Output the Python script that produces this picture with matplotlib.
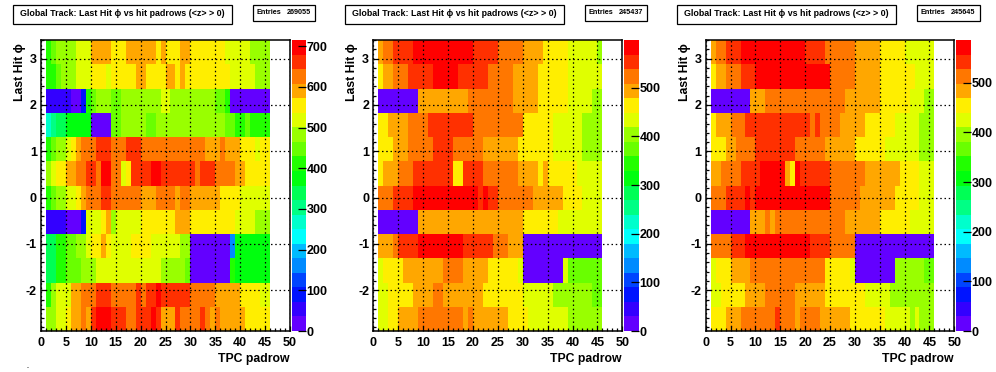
#!/usr/bin/env python3
# phi vs padrow panels, ROOT style
import colorsys
import numpy as np
import matplotlib
matplotlib.use('Agg')
import matplotlib.pyplot as plt
from matplotlib.colors import ListedColormap, BoundaryNorm
from matplotlib.patches import Rectangle

W, H = 996, 372
FONT = ['Liberation Sans', 'DejaVu Sans']

title = 'Global Track: Last Hit \u03d5 vs hit padrows (<z> > 0)'
entries = ['269055', '245437', '245645']
vmax = [715, 598, 586]
bar_ticks = [[0, 100, 200, 300, 400, 500, 600, 700],
             [0, 100, 200, 300, 400, 500],
             [0, 100, 200, 300, 400, 500]]

# counts per phi bin (bottom row first), one value per padrow 1..45
counts1 = [
    [483,483,518,518,554,590,590,625,590,661,697,697,697,661,661,661,625,625,661,661,661,697,661,590,590,590,661,625,625,625,625,661,625,590,625,590,590,590,590,590,554,554,554,554,554],
    [411,483,518,518,518,590,590,625,625,625,661,661,661,625,625,625,625,625,661,625,661,661,697,661,661,661,661,661,661,625,625,625,625,625,590,590,590,590,590,554,554,554,554,518,518],
    [340,340,411,411,447,447,447,483,483,483,518,518,518,518,518,518,518,518,518,518,518,518,518,483,483,483,483,483,447,18,18,18,18,18,18,18,18,411,375,375,375,375,375,375,375],
    [340,340,411,411,447,447,483,483,518,554,554,590,554,518,518,518,518,554,554,554,554,518,518,518,518,518,518,483,483,18,18,18,18,18,18,18,18,161,375,375,375,375,375,375,375],
    [54,54,54,54,18,18,18,89,518,518,518,554,590,483,518,518,518,518,518,554,554,554,554,554,554,554,590,590,590,554,554,554,554,554,554,554,554,554,518,518,518,518,483,483,483],
    [411,447,483,483,518,518,554,590,625,625,625,661,661,625,625,625,625,625,625,590,590,590,625,625,625,625,590,625,625,590,590,590,590,590,590,554,554,554,554,518,518,518,518,518,518],
    [483,518,554,554,590,590,625,625,661,661,625,697,697,625,625,518,554,661,661,661,661,697,697,661,661,661,661,661,661,661,625,661,661,661,625,625,625,625,590,590,554,554,554,554,554],
    [411,447,483,483,518,554,590,625,625,625,661,661,661,625,625,625,661,661,661,625,625,625,625,625,625,625,625,625,625,625,625,625,590,590,590,625,590,590,590,554,554,554,518,554,554],
    [268,304,340,340,375,375,375,375,375,18,18,18,18,447,447,483,483,483,483,483,447,447,483,483,483,483,483,483,483,483,483,483,483,483,483,483,447,447,411,411,447,411,411,411,411],
    [54,54,54,54,54,18,18,89,411,447,483,483,483,447,447,483,483,483,483,483,483,483,483,518,518,483,483,483,483,483,483,483,483,483,447,447,411,18,18,18,18,18,18,18,18],
    [411,411,447,483,483,483,518,518,518,554,554,554,518,554,554,554,554,554,590,590,554,554,554,554,590,590,554,590,554,554,554,554,554,554,554,554,554,518,518,518,518,518,483,483,483],
    [411,447,483,483,483,483,518,518,518,590,590,590,590,554,554,554,590,590,590,590,590,590,554,590,554,554,554,590,590,554,554,554,554,554,554,554,518,518,518,518,518,483,483,483,483],
]

counts2 = [
    [433,433,463,463,493,493,493,493,523,523,523,523,523,523,523,523,523,493,523,493,493,493,493,493,493,493,463,463,463,463,433,433,433,433,433,433,433,433,404,404,404,404,404,404,404],
    [433,433,463,463,463,463,463,493,493,493,493,523,523,493,493,493,493,493,493,493,493,463,463,463,463,463,463,463,463,433,433,433,433,433,433,404,404,404,404,404,404,404,404,374,374],
    [433,463,463,463,463,493,493,493,493,493,493,493,493,523,523,523,523,493,493,493,493,493,463,463,463,463,463,463,433,15,15,15,15,15,15,15,15,433,374,374,374,374,374,374,374],
    [493,493,493,523,553,553,553,553,583,583,583,583,583,583,583,583,583,553,553,553,553,553,553,523,523,523,493,493,493,15,15,15,15,15,15,15,15,15,15,15,15,15,15,15,15],
    [15,15,15,15,15,15,15,15,493,493,493,493,493,493,493,493,493,493,493,493,493,493,493,493,493,493,493,493,493,463,463,463,463,463,463,463,433,433,433,433,433,433,433,433,433],
    [523,523,523,553,553,553,553,583,583,583,583,583,583,583,583,583,583,583,583,583,553,583,553,553,523,523,523,523,523,523,523,493,493,493,493,493,493,463,463,463,463,433,433,433,433],
    [463,493,493,493,523,523,523,553,553,553,553,553,553,553,553,463,463,553,553,553,553,523,523,523,523,523,523,523,493,493,493,493,463,493,463,463,463,463,463,463,433,433,433,433,433],
    [463,463,463,493,493,493,523,523,523,523,523,553,553,553,553,523,523,523,523,523,523,493,493,493,493,493,493,493,463,463,463,463,463,463,463,433,433,433,433,433,433,404,404,404,404],
    [463,463,493,493,493,493,523,523,523,523,553,553,553,553,553,553,553,553,553,523,523,523,523,523,523,523,523,523,523,463,463,463,463,463,463,433,433,433,433,433,433,404,404,404,404],
    [15,15,15,15,15,15,15,15,493,493,493,493,493,493,493,493,493,493,523,523,523,523,523,523,523,523,523,493,493,493,493,493,463,463,463,463,463,463,433,433,433,433,433,404,404],
    [463,493,493,523,523,523,553,553,553,553,553,583,583,583,583,583,553,553,553,553,553,553,523,523,523,523,523,493,493,493,493,493,463,463,463,463,463,463,433,433,433,433,433,433,433],
    [493,523,523,553,553,553,553,583,583,583,583,583,583,583,583,583,583,583,583,553,553,553,553,553,523,523,523,523,523,493,493,493,493,463,463,463,463,463,433,433,433,433,433,433,404],
]

counts3 = [
    [454,454,454,483,483,483,513,513,513,513,513,513,513,542,513,513,513,483,513,513,513,513,483,483,483,483,483,483,454,454,454,454,454,454,454,425,425,425,425,425,395,425,395,395,395],
    [425,425,454,454,454,454,454,483,483,483,483,513,513,513,513,513,513,483,483,483,483,483,483,454,454,454,454,454,454,454,454,425,425,425,425,425,395,395,395,395,395,395,395,395,395],
    [425,454,454,454,483,483,483,483,513,513,513,513,513,513,513,513,513,513,513,513,513,513,513,454,454,454,454,454,425,15,15,15,15,15,15,15,15,395,395,395,395,395,395,366,366],
    [513,513,513,513,542,542,542,571,571,571,571,571,571,571,571,571,571,571,571,571,542,542,542,542,513,513,513,513,513,15,15,15,15,15,15,15,15,15,15,15,15,15,15,15,15],
    [15,15,15,15,15,15,15,15,483,483,483,513,483,513,513,513,513,513,513,513,513,513,513,513,513,513,513,483,483,483,483,483,483,483,454,454,454,454,454,454,425,425,425,425,425],
    [513,513,513,542,542,542,542,571,542,571,571,571,571,571,571,571,571,571,571,571,571,571,571,571,513,513,513,513,513,513,483,483,483,483,483,483,483,454,454,454,454,454,425,425,425],
    [483,483,513,513,513,513,542,542,542,542,571,571,571,571,571,483,454,571,542,542,542,542,542,542,513,513,513,513,513,513,513,483,483,483,483,483,483,483,454,454,454,454,425,425,425],
    [454,454,454,483,483,513,513,513,513,542,542,542,542,542,542,542,542,513,513,513,513,513,513,483,483,483,483,483,483,454,454,454,454,454,454,425,425,425,425,425,425,425,395,395,395],
    [454,483,483,483,513,513,513,542,542,542,542,542,542,542,542,542,542,542,542,542,513,542,513,513,513,513,483,483,483,483,483,454,454,454,454,454,454,425,425,425,425,425,395,395,395],
    [15,15,15,15,15,15,15,15,483,483,483,513,513,513,513,513,513,513,513,513,513,513,513,513,513,513,513,483,483,483,483,483,483,483,454,454,454,454,454,454,425,425,425,395,395],
    [454,483,483,513,513,513,542,542,542,571,571,571,571,571,571,571,571,571,571,571,571,571,571,571,513,513,513,513,513,483,483,483,483,483,454,454,454,454,454,454,454,425,425,425,425],
    [483,513,513,542,542,542,571,571,571,571,571,571,571,571,571,571,571,571,571,542,542,542,542,513,513,513,513,513,513,483,483,483,483,483,454,454,454,454,454,425,425,425,425,425,425],
]
all_counts = [counts1, counts2, counts3]

# pixel boxes: frame left/right, colour bar left/right, title box, stats box
frames = [(41, 290), (373.3, 622.3), (705.7, 954.3)]
bars = [(292.3, 306), (624, 638.7), (956, 970.7)]
title_boxes = [(13.3, 231.7), (345, 563.7), (677.3, 895.7)]
stat_boxes = [(253.3, 315.3), (585, 647.3), (917.3, 979.7)]
TOP, BOT = 40, 331

padrow_edges = np.arange(1, 47)
phi_edges = np.deg2rad(np.arange(-165, 196, 30))

# ROOT pretty palette with 20 contours
palette = []
for c in range(20):
    i = int((c + 0.99) * 2.5)
    hue = 0 if i == 49 else 280 - (i + 1) * 5.6
    palette.append(colorsys.hls_to_rgb(hue / 360, 0.5, 1))
cmap = ListedColormap(palette)

plt.rcParams['font.family'] = FONT
plt.rcParams['font.weight'] = 'bold'
plt.rcParams['axes.unicode_minus'] = False

fig = plt.figure(figsize=(W / 100, H / 100), dpi=100)


def box(x0, x1, y0, y1):
    return [x0 / W, 1 - y1 / H, (x1 - x0) / W, (y1 - y0) / H]


for n in range(3):
    ax = fig.add_axes(box(frames[n][0], frames[n][1], TOP, BOT))
    norm = BoundaryNorm(np.linspace(0, vmax[n], 21), 20)
    mesh = ax.pcolormesh(padrow_edges, phi_edges, np.array(all_counts[n]),
                         cmap=cmap, norm=norm, antialiased=False, linewidth=0)
    ax.set_xlim(0, 50)
    ax.set_ylim(phi_edges[0], phi_edges[-1])
    ax.set_xticks(range(0, 51, 5))
    ax.set_xticks(range(0, 51), minor=True)
    ax.set_yticks([-2, -1, 0, 1, 2, 3])
    ax.set_yticks(np.arange(-2.8, 3.41, 0.2), minor=True)
    ax.tick_params(which='major', direction='in', length=3.8, width=0.9,
                   labelsize=9, pad=3)
    ax.tick_params(which='minor', direction='in', length=2.2, width=0.9)
    ax.tick_params(axis='x', which='major', pad=4)
    ax.set_axisbelow(False)
    ax.grid(True, which='major', color='black', linestyle=(0, (1.2, 2.2)), linewidth=0.9)
    for s in ax.spines.values():
        s.set_linewidth(1.1)

    fig.text((frames[n][1] - 1) / W, 1 - 359 / H, 'TPC padrow', ha='right', va='center',
             fontsize=8.8)
    fig.text((frames[n][0] - 21) / W, 1 - 43 / H, 'Last Hit \u03d5', ha='center', va='top',
             rotation=90, fontsize=8.8)

    cax = fig.add_axes(box(bars[n][0], bars[n][1], TOP, BOT))
    cb = fig.colorbar(mesh, cax=cax, ticks=bar_ticks[n], spacing='proportional')
    cb.outline.set_visible(False)
    cb.minorticks_off()
    cax.tick_params(direction='in', length=5.8, width=0.9, labelsize=9, pad=0.5)

    # title and stats boxes
    tx0, tx1 = title_boxes[n]
    fig.add_artist(Rectangle((tx0 / W, 1 - 23.7 / H), (tx1 - tx0) / W, 18.4 / H,
                             transform=fig.transFigure, fc='white', ec='black', lw=0.9))
    fig.text((tx0 + tx1) / 2 / W, 1 - 14 / H, title, ha='center', va='center', fontsize=6.4)
    sx0, sx1 = stat_boxes[n]
    fig.add_artist(Rectangle((sx0 / W, 1 - 20.7 / H), (sx1 - sx0) / W, 15.4 / H,
                             transform=fig.transFigure, fc='white', ec='black', lw=0.9))
    fig.text((sx0 + 3) / W, 1 - 12.6 / H, 'Entries', ha='left', va='center', fontsize=5.2)
    fig.text((sx1 - 4) / W, 1 - 12.6 / H, entries[n], ha='right', va='center', fontsize=5.2)

fig.text(27.5 / W, 1 - 370 / H, '.', ha='center', va='bottom', fontsize=5)

fig.savefig('out.png', dpi=100)
